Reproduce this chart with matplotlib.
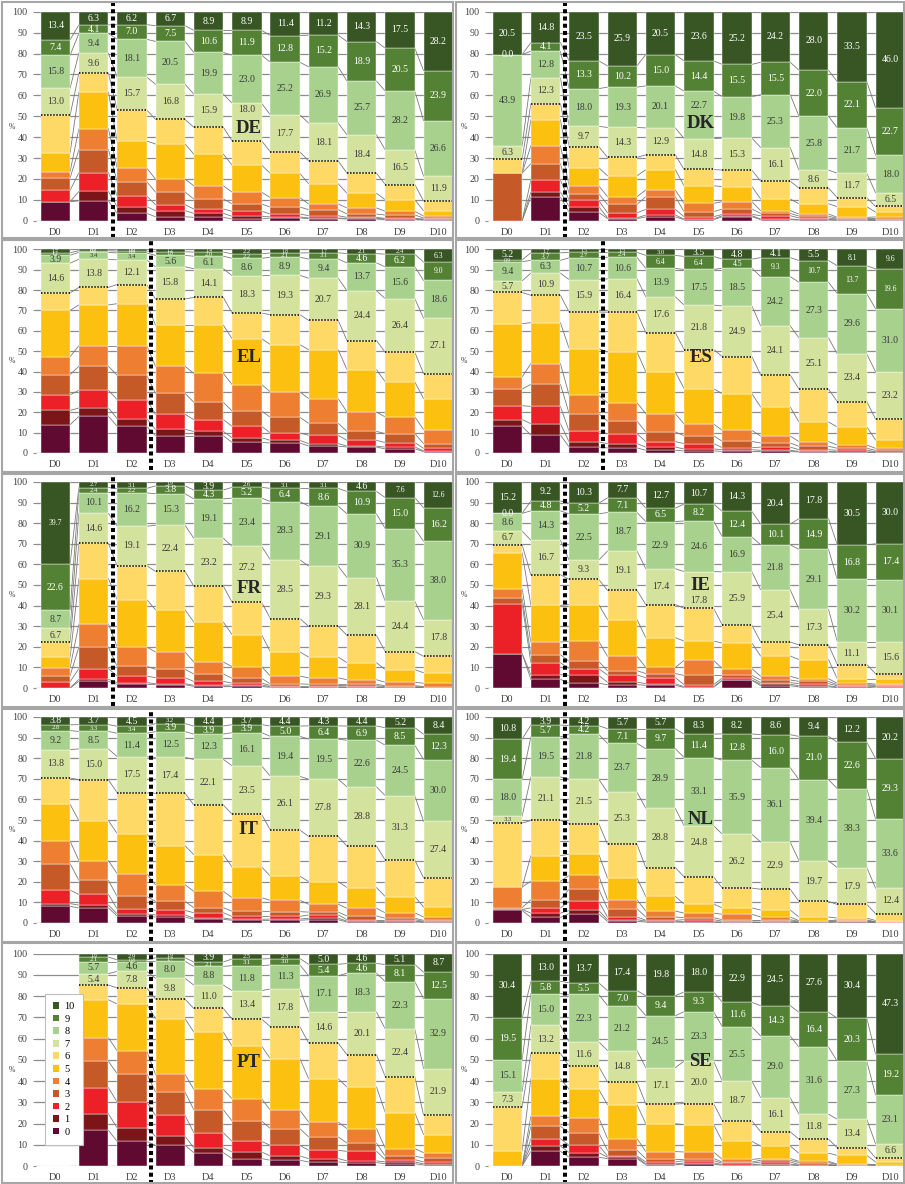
import matplotlib
matplotlib.use('Agg')
import matplotlib.pyplot as plt
import numpy as np
from matplotlib.patches import Patch, Rectangle

plt.rcParams['font.family'] = 'Liberation Serif'

deciles = ['D0', 'D1', 'D2', 'D3', 'D4', 'D5', 'D6', 'D7', 'D8', 'D9', 'D10']
categories = ['0', '1', '2', '3', '4', '5', '6', '7', '8', '9', '10']
colors = ['#600a32', '#7b1518', '#ec2027', '#c55a28', '#ee7f32', '#fcc011',
          '#ffd966', '#d3e29c', '#a8d18d', '#548235', '#375623']

# shares (%) of answers 0..10, one row per decile D0..D10
DE = [[9.1, 0, 5.4, 6.0, 3.0, 9.0, 17.9, 13.0, 15.8, 7.4, 13.4],
      [9.5, 4.5, 9.0, 11.0, 10.0, 17.5, 9.1, 9.6, 9.4, 4.1, 6.3],
      [3.5, 3.2, 5.1, 6.9, 6.5, 12.9, 14.9, 15.7, 18.1, 7.0, 6.2],
      [1.9, 2.9, 2.9, 6.0, 6.2, 16.8, 11.8, 16.8, 20.5, 7.5, 6.7],
      [1.6, 1.9, 2.1, 4.8, 6.3, 15.2, 12.8, 15.9, 19.9, 10.6, 8.9],
      [0.8, 1.3, 2.4, 3.5, 5.7, 12.9, 11.6, 18.0, 23.0, 11.9, 8.9],
      [1.3, 0.5, 1.4, 3.3, 4.5, 11.6, 10.3, 17.7, 25.2, 12.8, 11.4],
      [1.0, 0.3, 1.1, 2.9, 2.7, 9.7, 10.9, 18.1, 26.9, 15.2, 11.2],
      [0.8, 0.3, 0.5, 1.6, 2.9, 7.0, 9.6, 18.4, 25.7, 18.9, 14.3],
      [0.5, 0.3, 0.3, 1.6, 1.8, 5.5, 7.3, 16.5, 28.2, 20.5, 17.5],
      [0.3, 0.2, 0.3, 0.5, 0.9, 2.6, 4.6, 11.9, 26.6, 23.9, 28.2]]

DK = [[0, 0, 0, 22.8, 0, 0, 6.5, 6.3, 43.9, 0.0, 20.5],
      [11.3, 2.4, 5.8, 7.8, 8.6, 12.4, 7.7, 12.3, 12.8, 4.1, 14.8],
      [4.0, 2.7, 3.0, 3.2, 3.8, 8.7, 10.1, 9.7, 18.0, 13.3, 23.5],
      [1.0, 0.4, 2.4, 4.0, 3.7, 10.0, 8.8, 14.3, 19.3, 10.2, 25.9],
      [1.8, 0.9, 2.7, 6.1, 3.2, 9.7, 7.1, 12.9, 20.1, 15.0, 20.5],
      [0.5, 0.3, 1.1, 2.4, 4.0, 8.4, 7.8, 14.8, 22.7, 14.4, 23.6],
      [1.9, 0.5, 0.6, 2.6, 3.5, 7.2, 7.9, 15.3, 19.8, 15.5, 25.2],
      [0.5, 0.3, 1.6, 1.1, 1.3, 5.6, 8.5, 16.1, 25.3, 15.5, 24.2],
      [0.3, 0.3, 0.7, 0.9, 1.0, 4.9, 7.5, 8.6, 25.8, 22.0, 28.0],
      [0.2, 0.2, 0.3, 0.4, 0.5, 5.1, 4.3, 11.7, 21.7, 22.1, 33.5],
      [0.2, 0.1, 0.2, 0.5, 0.8, 2.3, 2.7, 6.5, 18.0, 22.7, 46.0]]

EL = [[13.9, 7.0, 7.7, 9.9, 8.8, 22.7, 8.6, 14.6, 3.9, 1.2, 1.7],
      [18.0, 4.1, 8.7, 11.8, 10.1, 20.0, 8.6, 13.8, 3.4, 0.8, 0.7],
      [13.1, 3.8, 9.3, 11.9, 14.6, 20.6, 9.4, 12.1, 3.4, 0.9, 0.9],
      [8.5, 3.1, 7.4, 10.3, 13.3, 20.2, 12.8, 15.8, 5.6, 1.8, 1.2],
      [8.5, 2.1, 5.8, 8.5, 14.2, 23.7, 13.6, 14.1, 6.1, 2.0, 1.4],
      [5.2, 2.3, 5.6, 7.5, 13.0, 22.5, 12.6, 18.3, 8.6, 2.2, 2.2],
      [4.9, 1.3, 3.6, 7.7, 12.5, 23.2, 14.7, 19.3, 8.9, 2.1, 1.8],
      [3.4, 1.2, 4.1, 5.9, 12.1, 24.0, 14.4, 20.7, 9.4, 3.1, 1.7],
      [2.9, 0.5, 2.8, 4.4, 9.5, 20.8, 14.3, 24.4, 13.7, 4.6, 2.1],
      [2.0, 0.9, 2.2, 4.4, 8.2, 17.2, 14.5, 26.4, 15.6, 6.2, 2.4],
      [0.7, 0.4, 1.2, 2.3, 6.9, 15.2, 12.3, 27.1, 18.6, 9.0, 6.3]]

ES = [[13.1, 3.3, 6.8, 8.2, 5.9, 26.2, 15.3, 5.7, 9.4, 0.9, 5.2],
      [8.8, 5.6, 8.5, 10.8, 10.2, 20.1, 13.4, 10.9, 6.3, 3.7, 1.7],
      [2.9, 2.5, 5.2, 8.7, 9.0, 22.9, 18.0, 15.9, 10.7, 2.7, 1.5],
      [2.5, 2.1, 4.9, 6.2, 9.0, 24.9, 19.5, 16.4, 10.6, 2.4, 1.5],
      [1.3, 1.6, 2.7, 4.7, 9.0, 20.6, 19.2, 17.6, 13.9, 6.4, 3.0],
      [1.0, 1.0, 2.6, 3.9, 5.7, 17.4, 19.2, 21.8, 17.5, 6.4, 3.5],
      [0.8, 0.8, 1.0, 3.1, 5.4, 18.0, 18.2, 24.9, 18.5, 4.5, 4.8],
      [0.8, 0.5, 1.6, 2.0, 3.4, 14.3, 15.7, 24.1, 24.2, 9.3, 4.1],
      [0.5, 0.3, 0.8, 1.7, 2.3, 9.6, 16.2, 25.1, 27.3, 10.7, 5.5],
      [0.3, 0.3, 0.7, 1.0, 1.6, 8.9, 12.4, 23.4, 29.6, 13.7, 8.1],
      [0.2, 0.2, 0.3, 0.6, 1.0, 4.1, 10.2, 23.2, 31.0, 19.6, 9.6]]

FR = [[0, 0, 3.1, 2.9, 3.9, 5.0, 7.4, 6.7, 8.7, 22.6, 39.7],
      [3.2, 1.0, 5.2, 10.5, 11.2, 22.0, 17.1, 14.6, 10.1, 2.4, 2.7],
      [1.8, 0.8, 3.2, 4.7, 9.4, 23.0, 16.5, 19.1, 16.2, 2.2, 3.1],
      [1.6, 0.5, 2.9, 4.1, 8.4, 20.5, 18.6, 22.4, 15.3, 3.8, 1.9],
      [0.8, 0.5, 1.9, 3.6, 5.8, 19.4, 17.5, 23.2, 19.1, 4.3, 3.9],
      [0.8, 0.7, 0.9, 2.3, 5.7, 15.5, 15.7, 27.2, 23.4, 5.2, 2.6],
      [0.3, 0.3, 0.6, 0.8, 3.8, 11.7, 16.2, 28.5, 28.3, 6.4, 3.1],
      [0.3, 0.3, 0.6, 0.6, 3.1, 10.1, 14.9, 29.3, 29.1, 8.6, 3.1],
      [0.3, 0.2, 0.6, 0.7, 2.2, 8.3, 13.2, 28.1, 30.9, 10.9, 4.6],
      [0.2, 0.2, 0.3, 0.4, 1.7, 6.1, 8.8, 24.4, 35.3, 15.0, 7.6],
      [0.1, 0.1, 0.2, 0.3, 1.6, 5.1, 8.0, 17.8, 38.0, 16.2, 12.6]]

IE = [[16.7, 0, 24.2, 2.8, 4.5, 17.5, 3.8, 6.7, 8.6, 0.0, 15.2],
      [4.2, 2.3, 5.8, 3.9, 6.1, 17.8, 14.9, 16.7, 14.3, 4.8, 9.2],
      [2.3, 3.8, 3.3, 3.5, 9.8, 17.8, 12.2, 9.3, 22.5, 5.2, 10.3],
      [1.6, 1.2, 3.5, 2.1, 7.0, 17.8, 14.2, 19.1, 18.7, 7.1, 7.7],
      [1.3, 0.8, 2.9, 2.0, 3.0, 14.4, 16.1, 17.4, 22.9, 6.5, 12.7],
      [0.3, 0.3, 1.0, 4.5, 7.3, 9.4, 15.9, 17.8, 24.6, 8.2, 10.7],
      [3.7, 0.2, 1.0, 1.2, 3.3, 12.4, 8.7, 25.9, 16.9, 12.4, 14.3],
      [1.1, 0.7, 0.8, 1.3, 1.8, 9.8, 6.8, 25.4, 21.8, 10.1, 20.4],
      [0.6, 0.5, 1.0, 1.1, 1.3, 9.3, 7.1, 17.3, 29.1, 14.9, 17.8],
      [0.2, 0.3, 0.6, 0.5, 0.7, 2.2, 6.9, 11.1, 30.2, 16.8, 30.5],
      [0.5, 0.2, 0.3, 0.4, 0.5, 2.6, 2.4, 15.6, 30.1, 17.4, 30.0]]

IT = [[8.1, 1.3, 6.5, 12.9, 11.0, 17.8, 12.8, 13.8, 9.2, 2.8, 3.8],
      [7.3, 1.4, 5.2, 6.8, 9.6, 19.4, 19.8, 15.0, 8.5, 3.3, 3.7],
      [3.4, 1.0, 2.4, 6.1, 11.0, 19.5, 19.8, 17.5, 11.4, 3.4, 4.5],
      [2.9, 1.0, 2.2, 4.4, 8.1, 18.9, 25.5, 17.4, 12.5, 3.9, 3.2],
      [1.8, 0.6, 2.6, 2.4, 8.0, 17.8, 24.1, 22.1, 12.3, 3.9, 4.4],
      [1.3, 0.5, 1.4, 2.5, 6.6, 14.9, 25.6, 23.5, 16.1, 3.9, 3.7],
      [1.3, 0.6, 1.3, 2.3, 5.5, 11.7, 22.4, 26.1, 19.4, 5.0, 4.4],
      [1.6, 0.7, 1.6, 1.4, 3.8, 11.0, 21.9, 27.8, 19.5, 6.4, 4.3],
      [0.5, 0.4, 0.7, 1.8, 3.7, 10.1, 20.1, 28.8, 22.6, 6.9, 4.4],
      [0.5, 0.4, 0.7, 0.7, 2.6, 7.9, 17.7, 31.3, 24.5, 8.5, 5.2],
      [0.3, 0.2, 0.3, 0.5, 1.6, 4.9, 14.1, 27.4, 30.0, 12.3, 8.4]]

NL = [[6.1, 0.5, 0, 0.8, 10.0, 0, 31.1, 3.3, 18.0, 19.4, 10.8],
      [2.7, 2.1, 2.5, 4.0, 9.0, 12.4, 17.1, 21.1, 19.5, 5.7, 3.9],
      [4.5, 1.6, 4.4, 6.0, 6.6, 10.3, 14.9, 21.5, 21.8, 4.2, 4.2],
      [0.8, 0.8, 1.3, 4.0, 4.4, 10.5, 16.4, 25.3, 23.7, 7.1, 5.7],
      [0.5, 0.4, 0.4, 1.6, 2.9, 7.1, 14.0, 28.8, 28.9, 9.7, 5.7],
      [0.3, 0.3, 1.0, 1.0, 2.2, 4.4, 13.2, 24.8, 33.1, 11.4, 8.3],
      [0.3, 0.2, 0.4, 0.7, 2.6, 3.1, 9.6, 26.2, 35.9, 12.8, 8.2],
      [0.3, 0.2, 0.5, 0.6, 1.3, 3.4, 10.1, 22.9, 36.1, 16.0, 8.6],
      [0.2, 0.1, 0.2, 0.3, 0.3, 1.8, 7.6, 19.7, 39.4, 21.0, 9.4],
      [0.2, 0.2, 0.4, 0.3, 0.4, 0.9, 6.6, 17.9, 38.3, 22.6, 12.2],
      [0.1, 0.1, 0.1, 0.1, 0.2, 0.6, 3.3, 12.4, 33.6, 29.3, 20.2]]

PT = [[0, 0, 0, 0, 0, 0, 0, 0, 0, 0, 0],
      [16.8, 7.8, 12.3, 12.4, 11.1, 17.9, 6.9, 5.4, 5.7, 2.1, 1.6],
      [11.6, 6.3, 12.2, 13.4, 10.7, 22.1, 7.6, 7.8, 4.6, 0.8, 2.9],
      [9.7, 4.3, 9.9, 11.0, 8.3, 26.2, 9.2, 9.8, 8.0, 1.7, 1.9],
      [6.3, 2.3, 7.1, 10.8, 9.6, 27.0, 11.1, 11.0, 8.8, 2.1, 3.9],
      [3.5, 3.1, 5.0, 9.6, 10.5, 24.8, 12.7, 13.4, 11.8, 3.1, 2.5],
      [2.7, 2.0, 5.0, 7.9, 8.6, 24.3, 15.1, 17.8, 11.3, 3.0, 2.3],
      [1.9, 1.6, 3.9, 6.3, 7.0, 20.4, 16.8, 14.6, 17.1, 5.4, 5.0],
      [1.6, 0.8, 4.5, 3.9, 6.8, 19.6, 15.2, 20.1, 18.3, 4.6, 4.6],
      [1.1, 0.8, 1.1, 1.6, 3.6, 16.9, 17.0, 22.4, 22.3, 8.1, 5.1],
      [0.5, 0.5, 0.9, 1.9, 2.5, 8.5, 9.2, 21.9, 32.9, 12.5, 8.7]]

SE = [[0, 0, 0, 0, 0, 7.1, 20.6, 7.3, 15.1, 19.5, 30.4],
      [6.9, 2.5, 3.5, 5.8, 4.8, 17.6, 11.9, 13.2, 15.0, 5.8, 13.0],
      [4.1, 2.2, 3.4, 6.0, 7.1, 13.3, 10.8, 11.6, 22.3, 5.5, 13.7],
      [3.5, 0.6, 0.6, 2.7, 5.5, 16.0, 10.7, 14.8, 21.2, 7.0, 17.4],
      [0.6, 0.4, 0.9, 1.6, 3.3, 13.1, 9.3, 17.1, 24.5, 9.4, 19.8],
      [0.9, 0.5, 1.1, 1.0, 3.1, 12.9, 9.9, 20.0, 23.3, 9.3, 18.0],
      [0.4, 0.3, 0.6, 0.6, 1.2, 8.5, 9.7, 18.7, 25.5, 11.6, 22.9],
      [0.5, 0.4, 1.0, 0.8, 0.8, 5.9, 6.7, 16.1, 29.0, 14.3, 24.5],
      [0.2, 0.2, 0.3, 0.9, 0.6, 3.8, 6.6, 11.8, 31.6, 16.4, 27.6],
      [0.1, 0.1, 0.2, 0.2, 0.3, 4.1, 3.6, 13.4, 27.3, 20.3, 30.4],
      [0.1, 0.1, 0.1, 0.1, 0.2, 1.3, 1.9, 6.6, 23.1, 19.2, 47.3]]

countries = ['DE', 'DK', 'EL', 'ES', 'FR', 'IE', 'IT', 'NL', 'PT', 'SE']
panels = [DE, DK, EL, ES, FR, IE, IT, NL, PT, SE]

# where the thick dotted separator sits (between deciles)
divider = [1.5, 1.5, 2.5, 2.5, 1.5, 1.5, 2.5, 1.5, 2.5, 1.5]
name_y = [44.2, 46.6, 46.8, 46.8, 48.2, 49.8, 45.3, 50.0, 48.7, 49.3]

# labels moved off the country name: (country, decile, answer) -> y
label_moved = {('DE', 5, 7): 53.0, ('DK', 5, 8): 54.9, ('IE', 5, 7): 42.6,
               ('FR', 5, 7): 58.7, ('NL', 5, 7): 39.0}
# labels printed in a smaller font
small_labels = [('ES', d, 9) for d in range(11)] + \
               [('EL', 10, 9), ('EL', 10, 10), ('FR', 0, 10), ('FR', 9, 10),
                ('FR', 10, 10), ('ES', 9, 10), ('ES', 10, 10)]

W, H = 905, 1184
fig = plt.figure(figsize=(W / 100, H / 100), dpi=100)

# pixel geometry of the panels
ax_left = [36.2, 488.2]
ax_right = [452, 903]
y100 = [11.7, 249.3, 482, 717, 953.7]
y0 = [220.7, 453, 688, 923, 1166]
box_x = [(1.5, 452.5), (455.5, 903.5)]
box_y = [(1.5, 238), (239.5, 472), (473.5, 707), (708.5, 941.5), (943, 1182.5)]

bw = 0.77
grey = '#8c8c8c'

for n, code in enumerate(countries):
    r, c = n // 2, n % 2
    ax = fig.add_axes([ax_left[c] / W, 1 - y0[r] / H,
                       (ax_right[c] - ax_left[c]) / W, (y0[r] - y100[r]) / H])
    data = np.array(panels[n], dtype=float)
    x = np.arange(len(deciles))
    tot = data.sum(axis=1)
    cum = np.cumsum(data, axis=1)

    bottom = np.zeros(len(deciles))
    for k in range(len(categories)):
        ax.bar(x, data[:, k], width=bw, bottom=bottom, color=colors[k],
               edgecolor='white', linewidth=0.3, zorder=3)
        bottom += data[:, k]

    # series lines between bars
    for i in range(len(x) - 1):
        if tot[i] == 0 or tot[i + 1] == 0:
            continue
        for k in range(10):
            ax.plot([i + bw / 2, i + 1 - bw / 2], [cum[i, k], cum[i + 1, k]],
                    color='#7a7a7a', lw=0.6, zorder=2)

    # dotted line between 6 and 7
    for i in range(len(x)):
        if tot[i] > 0:
            ax.hlines(cum[i, 6], i - bw / 2, i + bw / 2, colors='black',
                      linestyles=(0, (1, 1)), lw=1.1, zorder=4)

    # value labels for 7..10
    for i in range(len(x)):
        if tot[i] == 0:
            continue
        for k in range(7, 11):
            v = data[i, k]
            yc = label_moved.get((code, i, k), cum[i, k] - v / 2)
            if 0 < v < 2.0:
                fs = 4
            elif 0 < v < 3.5:
                fs = 4.8
            elif (code, i, k) in small_labels:
                fs = 5.5
            else:
                fs = 7
            ax.text(i, yc, f'{v:.1f}', ha='center', va='center', fontsize=fs,
                    color='white' if k >= 9 else '#3a3a3a', zorder=5)

    ax.text(5.05, name_y[n], code, ha='center', va='center', fontsize=13.5,
            fontweight='bold', color='#262626', zorder=6)

    ax.axvline(divider[n], ymin=-0.085, ymax=1.04, clip_on=False, color='black',
               lw=2.9, linestyle=(0, (1, 0.8)), zorder=7)

    ax.set_xlim(-0.5, -0.5 + (ax_right[c] - ax_left[c]) / 38.3)
    ax.set_ylim(0, 100)
    ax.set_xticks(x, deciles)
    ax.set_yticks(range(0, 101, 10))
    ax.set_axisbelow(True)
    ax.yaxis.grid(True, color=grey, lw=0.9)
    for s in ax.spines.values():
        s.set_visible(False)
    ax.tick_params(axis='x', length=0, pad=5, labelsize=7.5, labelcolor='#404040')
    ax.tick_params(axis='y', length=2.2, color=grey, pad=4, labelsize=7.2,
                   labelcolor='#404040')
    ax.text(-0.058, 0.45, '%', transform=ax.transAxes, fontsize=5.5,
            ha='center', va='center', color='#404040')

    if code == 'PT':
        handles = [Patch(facecolor=colors[k], label=categories[k])
                   for k in range(10, -1, -1)]
        leg = ax.legend(handles=handles, loc='upper left',
                        bbox_to_anchor=(0.008, 0.835), fontsize=7.5,
                        handlelength=0.6, handleheight=0.6, labelspacing=0.34,
                        handletextpad=0.5, borderpad=0.8, fancybox=False,
                        edgecolor='#bfbfbf', framealpha=1)
        leg.get_frame().set_linewidth(0.8)
        leg.set_zorder(8)

    bx, by = box_x[c], box_y[r]
    fig.add_artist(Rectangle((bx[0] / W, 1 - by[1] / H), (bx[1] - bx[0]) / W,
                             (by[1] - by[0]) / H, transform=fig.transFigure,
                             fill=False, edgecolor='#a6a6a6', lw=1.5))

fig.savefig('out.png', dpi=100)
